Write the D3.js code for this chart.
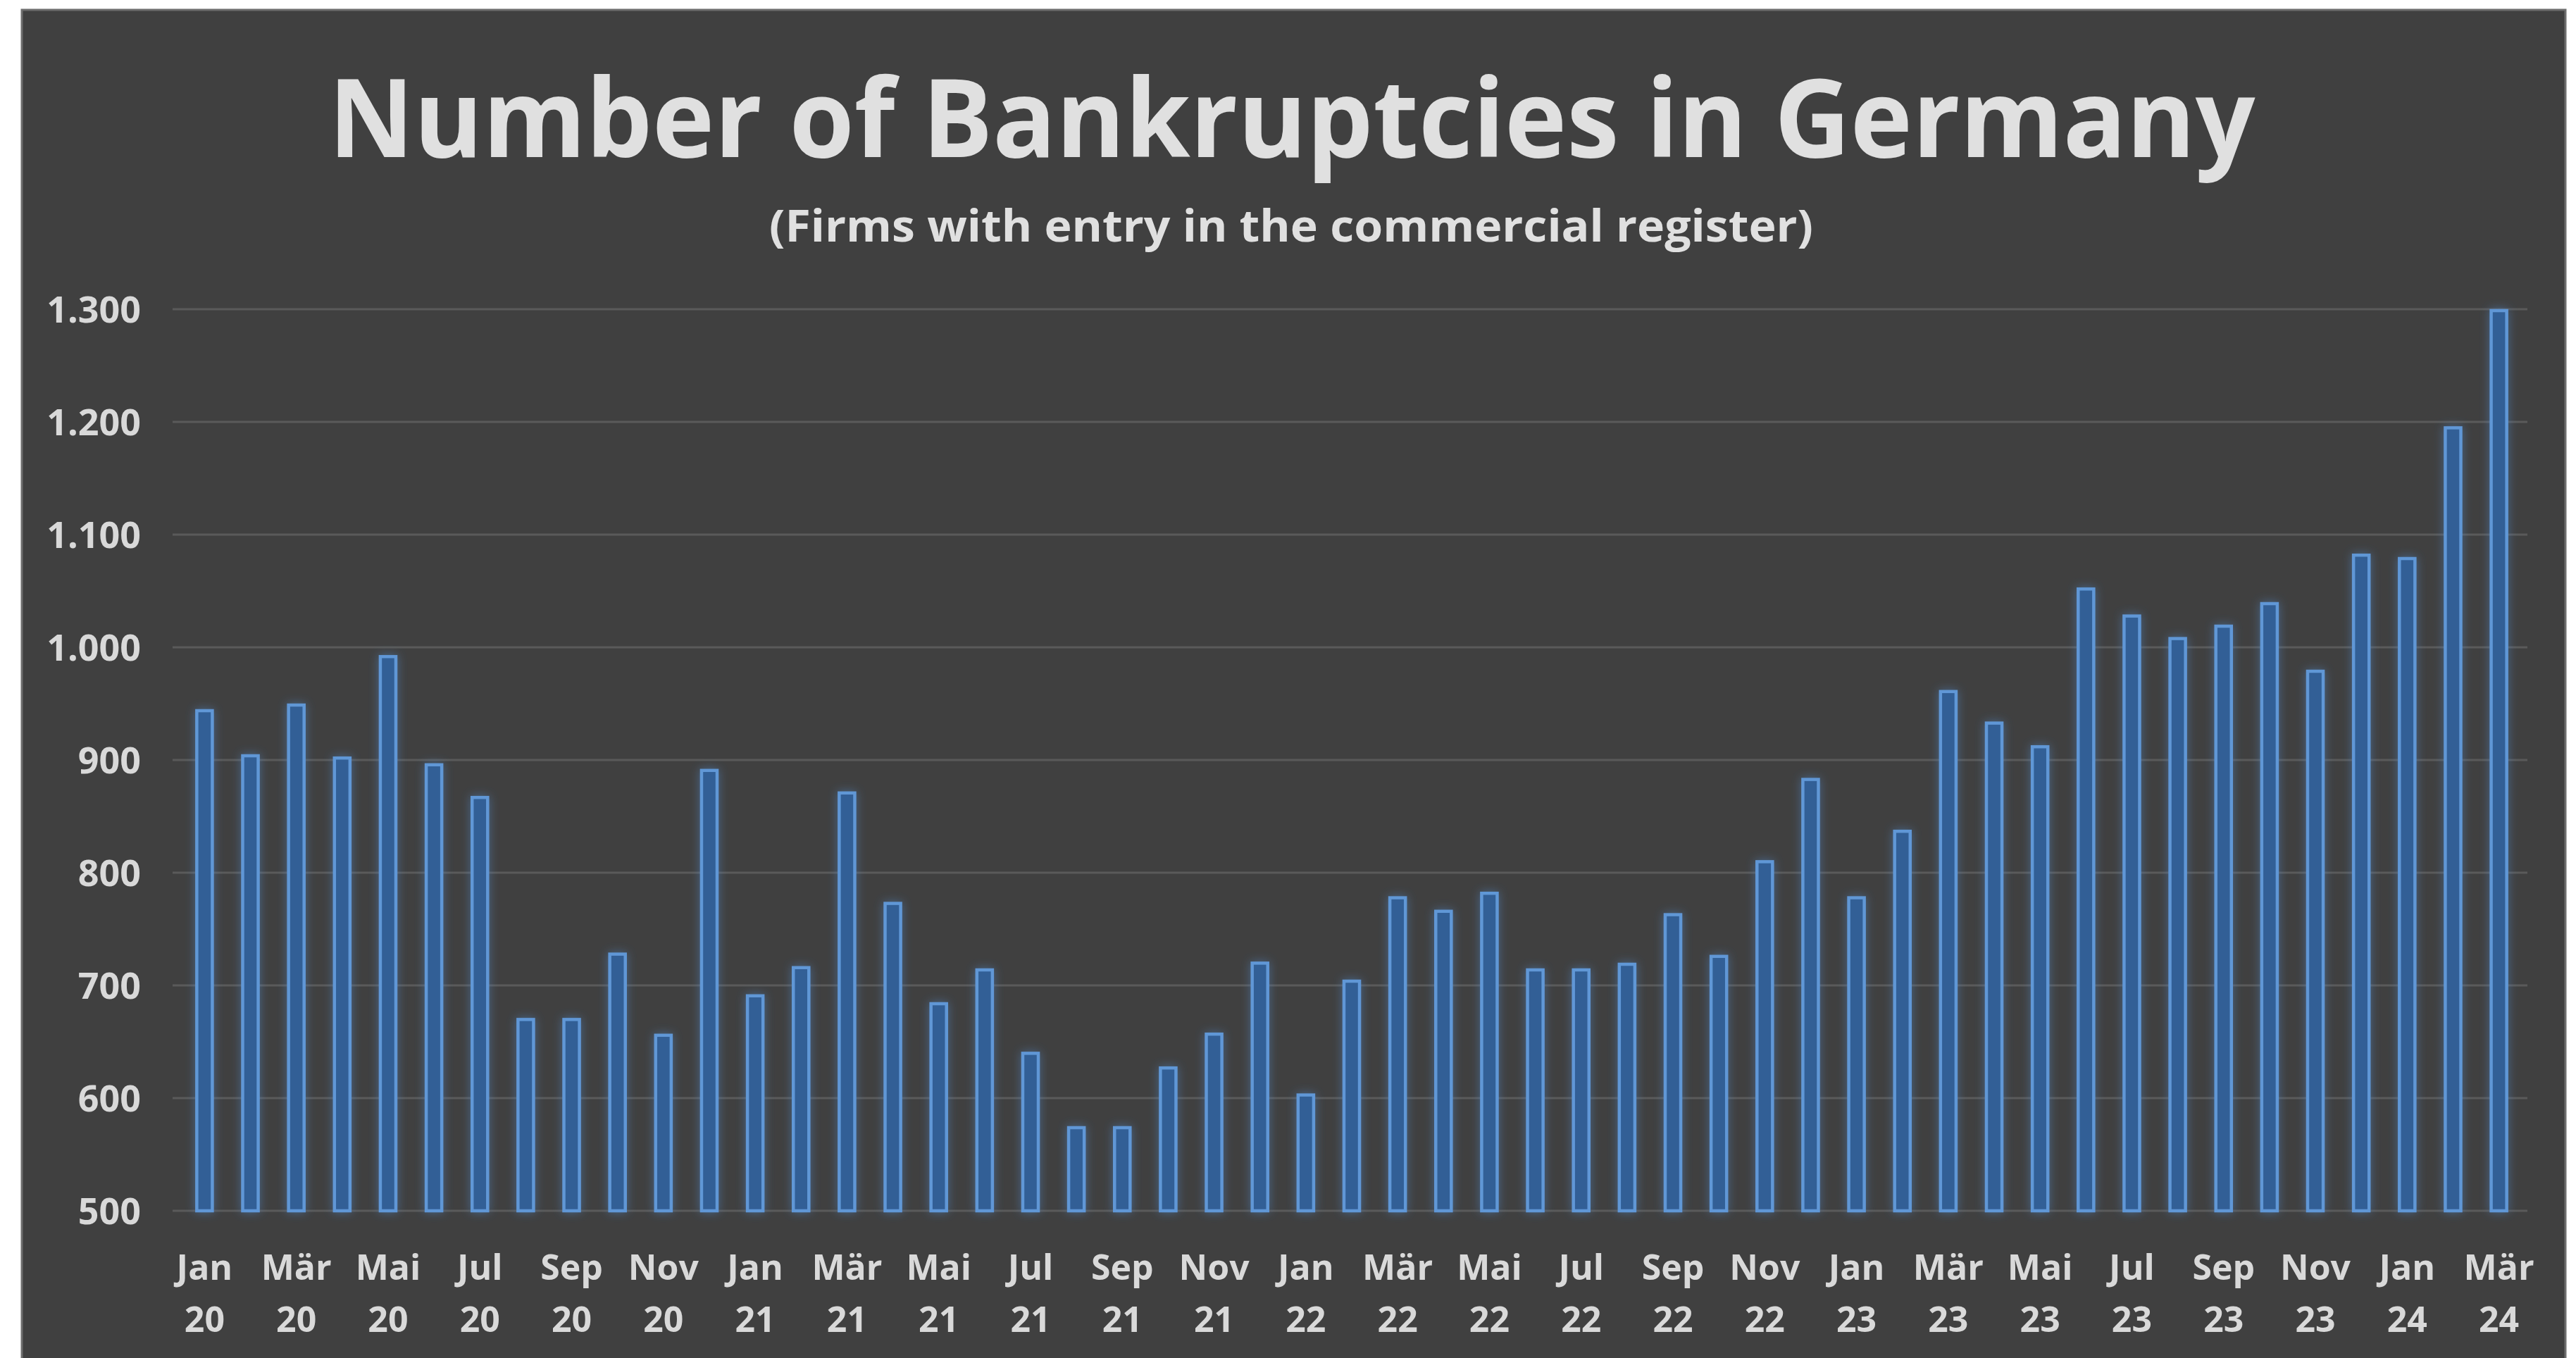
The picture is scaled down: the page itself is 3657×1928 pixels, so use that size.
<!DOCTYPE html>
<html>
<head>
<meta charset="utf-8">
<script src="https://cdn.jsdelivr.net/npm/d3@7"></script>
<style>
  html, body { margin: 0; padding: 0; background: #fff; }
  svg { display: block; }
</style>
</head>
<body>
<div id="chart"></div>
<script>
// Monthly bankruptcies, Jan 2020 - Mar 2024
var months = [
  'Jan 20','Feb 20','Mär 20','Apr 20','Mai 20','Jun 20','Jul 20','Aug 20','Sep 20','Okt 20','Nov 20','Dez 20',
  'Jan 21','Feb 21','Mär 21','Apr 21','Mai 21','Jun 21','Jul 21','Aug 21','Sep 21','Okt 21','Nov 21','Dez 21',
  'Jan 22','Feb 22','Mär 22','Apr 22','Mai 22','Jun 22','Jul 22','Aug 22','Sep 22','Okt 22','Nov 22','Dez 22',
  'Jan 23','Feb 23','Mär 23','Apr 23','Mai 23','Jun 23','Jul 23','Aug 23','Sep 23','Okt 23','Nov 23','Dez 23',
  'Jan 24','Feb 24','Mär 24'
];
var bankruptcies = [
  945, 905, 950, 903, 993, 897, 868, 671, 671, 729, 657, 892,
  692, 717, 872, 774, 685, 715, 641, 575, 575, 628, 658, 721,
  604, 705, 779, 767, 783, 715, 715, 720, 764, 727, 811, 884,
  779, 838, 962, 934, 913, 1053, 1029, 1009, 1020, 1040, 980, 1083,
  1080, 1196, 1300
];
var yTicks = [500, 600, 700, 800, 900, 1000, 1100, 1200, 1300];
var titleText = 'Number of Bankruptcies in Germany';
var subtitleText = '(Firms with entry in the commercial register)';

var W = 3657, H = 1928;
var FONT = '"Open Sans", "DejaVu Sans", sans-serif';
var TXT = '#d9d9d9';

var de = d3.formatLocale({ decimal: ',', thousands: '.', grouping: [3], currency: ['', ' €'] });
var fmt = de.format(',.0f');

var svg = d3.select('#chart').append('svg').attr('width', W).attr('height', H);

// glow around the bars
var defs = svg.append('defs');
var glow = defs.append('filter').attr('id', 'glow')
    .attr('x', '-80%').attr('y', '-5%').attr('width', '260%').attr('height', '110%');
glow.append('feGaussianBlur').attr('in', 'SourceAlpha').attr('stdDeviation', 7).attr('result', 'blur');
glow.append('feFlood').attr('flood-color', '#4f86c8').attr('flood-opacity', 0.55);
glow.append('feComposite').attr('in2', 'blur').attr('operator', 'in').attr('result', 'halo');
var merge = glow.append('feMerge');
merge.append('feMergeNode').attr('in', 'halo');
merge.append('feMergeNode').attr('in', 'SourceGraphic');

// dark panel
svg.append('rect').attr('x', 31).attr('y', 14).attr('width', 3611).attr('height', H)
    .attr('fill', '#404040').attr('stroke', '#6e6e6e').attr('stroke-width', 3);

var x = d3.scaleBand().domain(months).range([250, 3588]).paddingInner(0.6).paddingOuter(0.42);
var y = d3.scaleLinear().domain([500, 1300]).range([1719, 439]);

// gridlines
svg.append('g').selectAll('line').data(yTicks).join('line')
    .attr('x1', 245).attr('x2', 3588)
    .attr('y1', function(d){ return y(d); }).attr('y2', function(d){ return y(d); })
    .attr('stroke', '#5a5a5a').attr('stroke-width', 3);

// y axis labels
var yAxis = d3.axisLeft(y).tickValues(yTicks).tickFormat(fmt).tickSize(0).tickPadding(0);
var yg = svg.append('g').attr('transform', 'translate(200,0)').call(yAxis);
yg.select('.domain').remove();
yg.selectAll('text').attr('fill', TXT).attr('font-family', FONT)
    .attr('font-weight', 700).attr('font-size', 52).attr('dy', '0.35em');

// bars
svg.append('g').attr('filter', 'url(#glow)').selectAll('rect').data(bankruptcies).join('rect')
    .attr('x', function(d, i){ return x(months[i]) + 2; })
    .attr('width', x.bandwidth() - 4)
    .attr('y', function(d){ return y(d) + 2; })
    .attr('height', function(d){ return y(500) - y(d) - 2; })
    .attr('fill', '#305f96')
    .attr('stroke', '#6097d6').attr('stroke-width', 4.5);

// x axis labels: every second month, two lines
var xAxis = d3.axisBottom(x)
    .tickValues(months.filter(function(m, i){ return i % 2 === 0; }))
    .tickSize(0).tickPadding(0).tickFormat('');
var xg = svg.append('g').call(xAxis);
xg.select('.domain').remove();
xg.selectAll('.tick text').remove();
xg.selectAll('.tick').each(function(m){
    var parts = m.split(' ');
    var t = d3.select(this).append('text')
        .attr('fill', TXT).attr('font-family', FONT).attr('font-weight', 700)
        .attr('font-size', 50).attr('text-anchor', 'middle');
    t.append('tspan').attr('x', 0).attr('y', 1817).text(parts[0]);
    t.append('tspan').attr('x', 0).attr('y', 1891).text(parts[1]);
});

// titles
svg.append('text').attr('x', 1834).attr('y', 223).attr('text-anchor', 'middle')
    .attr('font-family', FONT).attr('font-weight', 700).attr('font-size', 154)
    .attr('fill', '#e0e0e0')
    .attr('textLength', 2735).attr('lengthAdjust', 'spacingAndGlyphs')
    .text(titleText);
svg.append('text').attr('x', 1833).attr('y', 343).attr('text-anchor', 'middle')
    .attr('font-family', FONT).attr('font-weight', 700).attr('font-size', 62)
    .attr('fill', '#e0e0e0')
    .attr('textLength', 1482).attr('lengthAdjust', 'spacingAndGlyphs')
    .text(subtitleText);
</script>
</body>
</html>
